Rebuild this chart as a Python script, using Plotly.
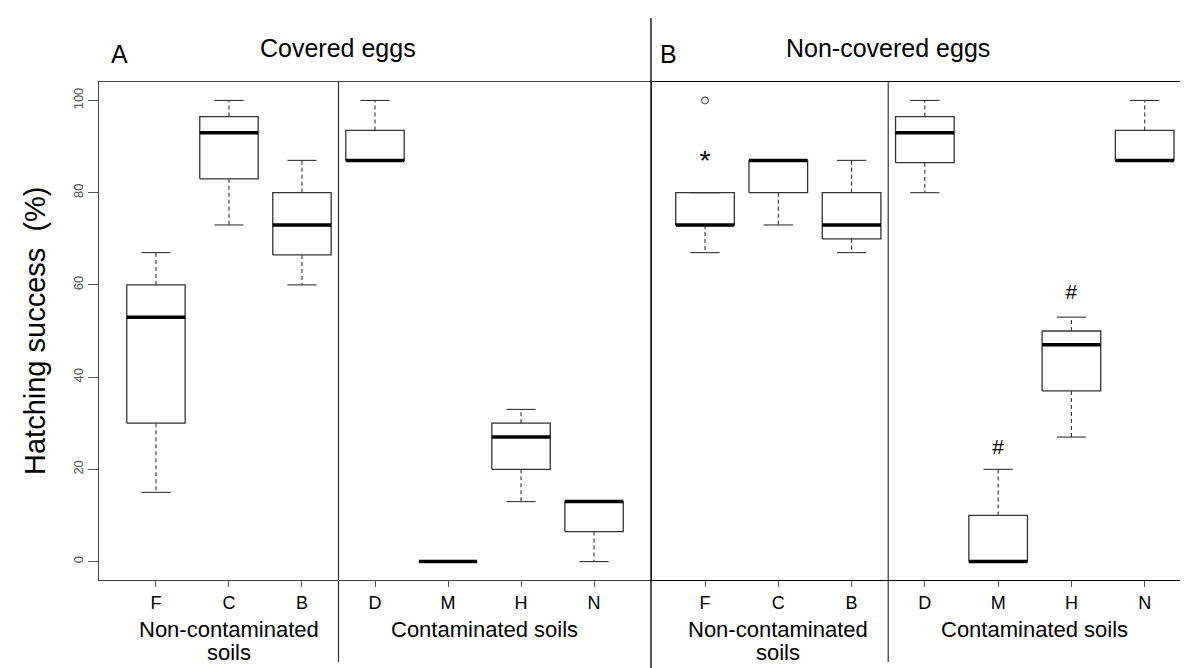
import plotly.graph_objects as go

# ---------------- data ----------------
categories = ["F", "C", "B", "D", "M", "H", "N"]
groups = {
    "Non-contaminated<br>soils": ["F", "C", "B"],
    "Contaminated soils": ["D", "M", "H", "N"],
}

# Panel A: covered eggs (box statistics, % hatching success)
a_low = [15, 73, 60, 87, 0, 13, 0]
a_q1 = [30, 83, 66.5, 87, 0, 20, 6.5]
a_med = [53, 93, 73, 87, 0, 27, 13]
a_q3 = [60, 96.5, 80, 93.5, 0, 30, 13]
a_high = [67, 100, 87, 100, 0, 33, 13]

# Panel B: non-covered eggs
b_low = [67, 73, 67, 80, 0, 27, 87]
b_q1 = [73, 80, 70, 86.5, 0, 37, 87]
b_med = [73, 87, 73, 93, 0, 47, 87]
b_q3 = [80, 87, 80, 96.5, 10, 50, 93.5]
b_high = [80, 87, 87, 100, 20, 53, 100]

b_outlier_cat = ["F"]
b_outlier_val = [100]

b_mark_cat = ["F", "M", "H"]
b_mark_text = ["*", "#", "#"]
b_mark_val = [86.5, 24.5, 58]

y_ticks = [0, 20, 40, 60, 80, 100]
panel_letters = ["A", "B"]
panel_titles = ["Covered eggs", "Non-covered eggs"]
y_title = "Hatching success  (%)"

# ---------------- layout constants ----------------
W, H = 1188, 668
ML, MR, MT, MB = 91, 0, 74, 96
PW = W - ML - MR
PH = H - MT - MB
split = (643 - ML) / PW
FONT = "Liberation Sans, Arial, Helvetica, sans-serif"
BOXW = 0.4      # half box width
STAPLE = 0.2    # half staple width

pos = {c: i + 1 for i, c in enumerate(categories)}


def py(px):
    """pixel y -> paper y"""
    return 1 - (px - MT) / PH


fig = go.Figure()


def add_boxes(low, q1, med, q3, high, xa, ya):
    bx, by, mx, my, wx, wy, sx, sy = [], [], [], [], [], [], [], []
    for i, c in enumerate(categories):
        x = pos[c]
        if q3[i] > q1[i]:
            bx += [x - BOXW, x + BOXW, x + BOXW, x - BOXW, x - BOXW, None]
            by += [q1[i], q1[i], q3[i], q3[i], q1[i], None]
        mx += [x - BOXW, x + BOXW, None]
        my += [med[i], med[i], None]
        if high[i] > q3[i]:
            wx += [x, x, None]
            wy += [q3[i], high[i], None]
        if low[i] < q1[i]:
            wx += [x, x, None]
            wy += [q1[i], low[i], None]
        sx += [x - STAPLE, x + STAPLE, None, x - STAPLE, x + STAPLE, None]
        sy += [high[i], high[i], None, low[i], low[i], None]
    common = dict(xaxis=xa, yaxis=ya, mode="lines", showlegend=False, hoverinfo="skip")
    fig.add_trace(go.Scatter(x=wx, y=wy, line=dict(color="#333", width=1.1, dash="4px,3px"), **common))
    fig.add_trace(go.Scatter(x=sx, y=sy, line=dict(color="#333", width=1.1), **common))
    fig.add_trace(go.Scatter(x=bx, y=by, line=dict(color="#333", width=1.3), **common))
    fig.add_trace(go.Scatter(x=mx, y=my, line=dict(color="black", width=3.5), **common))


add_boxes(a_low, a_q1, a_med, a_q3, a_high, "x", "y")
add_boxes(b_low, b_q1, b_med, b_q3, b_high, "x2", "y2")

fig.add_trace(go.Scatter(
    x=[pos[c] for c in b_outlier_cat], y=b_outlier_val, xaxis="x2", yaxis="y2",
    mode="markers", marker=dict(symbol="circle-open", size=7, color="#333", line=dict(width=1)),
    showlegend=False, hoverinfo="skip"))

fig.add_trace(go.Scatter(
    x=[pos[c] for c in b_mark_cat], y=b_mark_val, xaxis="x2", yaxis="y2",
    mode="text", text=b_mark_text,
    textfont=dict(family=FONT, size=[28, 21, 21], color="black"),
    showlegend=False, hoverinfo="skip"))

# ---------------- axes ----------------
xcommon = dict(tickmode="array", tickvals=[pos[c] for c in categories], ticktext=categories,
               ticks="outside", ticklen=6, tickcolor="#555", tickwidth=1,
               tickfont=dict(family=FONT, size=18, color="black"),
               showgrid=False, zeroline=False, showline=True, mirror=True, linewidth=1)
fig.update_layout(
    xaxis=dict(domain=[0, split], range=[0.22, 7.78], linecolor="#444", anchor="y", **xcommon),
    xaxis2=dict(domain=[split, 1], range=[0.263, 7.70], linecolor="black", anchor="y2", **xcommon),
    yaxis=dict(domain=[0, 1], range=[-4, 104], tickmode="array", tickvals=y_ticks,
               ticks="outside", ticklen=10, tickcolor="#555", tickangle=-90,
               tickfont=dict(family=FONT, size=13, color="#555"),
               showgrid=False, zeroline=False, showline=True, mirror=True,
               linecolor="#444", linewidth=1, anchor="x"),
    yaxis2=dict(domain=[0, 1], range=[-4, 104], showticklabels=False, ticks="",
                showgrid=False, zeroline=False, showline=False, anchor="x2"),
)

# ---------------- shapes: separators ----------------
shapes = []
names = list(groups)
sep = (pos[groups[names[0]][-1]] + pos[groups[names[1]][0]]) / 2
for xa in ("x", "x2"):
    shapes.append(dict(type="line", xref=xa, yref="paper", x0=sep, x1=sep,
                       y0=py(654), y1=1, line=dict(color="#333", width=1.2)))
shapes.append(dict(type="line", xref="x2 domain", yref="paper", x0=0, x1=0,
                   y0=py(662), y1=py(10), line=dict(color="black", width=1.3)))

# ---------------- annotations ----------------
ann = []
for xa, letter, title in zip(("x", "x2"), panel_letters, panel_titles):
    ann.append(dict(xref=xa, yref="paper", x=0.5, y=py(46), text=letter, showarrow=False,
                    font=dict(family=FONT, size=25, color="black"), xanchor="center", yanchor="middle"))
    ann.append(dict(xref=xa, yref="paper", x=sep, y=py(40), text=title, showarrow=False,
                    font=dict(family=FONT, size=25, color="black"), xanchor="center", yanchor="middle"))
    for gname, members in groups.items():
        gx = sum(pos[m] for m in members) / len(members)
        for li, line in enumerate(gname.split("<br>")):
            ann.append(dict(xref=xa, yref="paper", x=gx, y=py(621 + 23 * li), text=line,
                            showarrow=False, font=dict(family=FONT, size=22, color="black"),
                            xanchor="center", yanchor="middle", borderpad=0))
ann.append(dict(xref="paper", yref="paper", x=(27 - ML) / PW, y=0.5, text=y_title, textangle=-90,
                showarrow=False, font=dict(family=FONT, size=29, color="black"),
                xanchor="center", yanchor="middle"))

fig.update_layout(
    width=W, height=H, margin=dict(l=ML, r=MR, t=MT, b=MB),
    paper_bgcolor="white", plot_bgcolor="white",
    shapes=shapes, annotations=ann, showlegend=False,
)

fig.write_html("out.html")
